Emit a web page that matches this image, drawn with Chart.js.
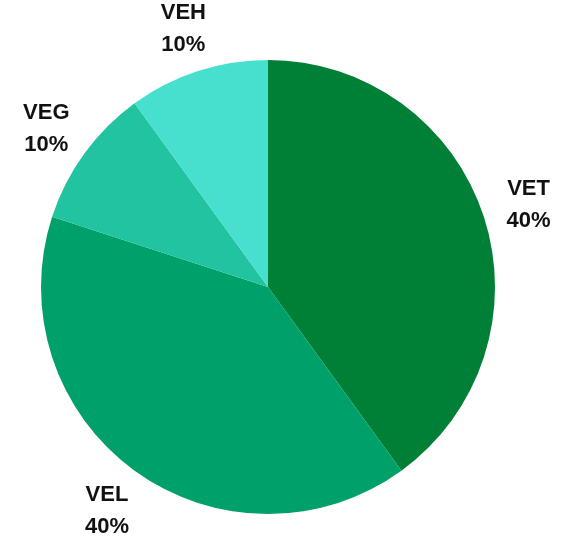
<!DOCTYPE html>
<html>
<head>
<meta charset="utf-8">
<script src="https://cdn.jsdelivr.net/npm/chart.js@4/dist/chart.umd.min.js"></script>
<style>
  html, body { margin: 0; padding: 0; background: #fff; }
  #wrap { width: 574px; height: 540px; }
</style>
</head>
<body>
<div id="wrap"><canvas id="myChart" width="574" height="540"></canvas></div>
<script>
// Slice data
const labels = ['VET', 'VEL', 'VEG', 'VEH'];
const values = [40, 40, 10, 10];
const colors = ['#007f37', '#00a06b', '#21c3a0', '#47dfce'];

// Draws "NAME" and "xx%" outside each slice
const outerLabels = {
    id: 'outerLabels',
    afterDatasetsDraw(chart) {
        const ctx = chart.ctx;
        const meta = chart.getDatasetMeta(0);
        const total = values.reduce((a, b) => a + b, 0);
        ctx.save();
        ctx.font = 'bold 22px "Liberation Sans", Arial, sans-serif';
        ctx.fillStyle = '#111';
        ctx.textAlign = 'center';
        ctx.textBaseline = 'middle';
        meta.data.forEach((arc, i) => {
            const mid = (arc.startAngle + arc.endAngle) / 2;
            const r = arc.outerRadius + 47;
            const x = arc.x + Math.cos(mid) * r;
            const y = arc.y + Math.sin(mid) * r + 2.5;
            ctx.fillText(labels[i], x, y - 16);
            ctx.fillText(Math.round(values[i] / total * 100) + '%', x, y + 16);
        });
        ctx.restore();
    }
};

new Chart(document.getElementById('myChart').getContext('2d'), {
    type: 'pie',
    data: {
        labels: labels,
        datasets: [{
            data: values,
            backgroundColor: colors,
            borderWidth: 0
        }]
    },
    options: {
        responsive: false,
        animation: false,
        layout: {
            padding: { left: 41, right: 79, top: 60, bottom: 26 }
        },
        plugins: {
            legend: { display: false },
            tooltip: { enabled: false }
        }
    },
    plugins: [outerLabels]
});
</script>
</body>
</html>
